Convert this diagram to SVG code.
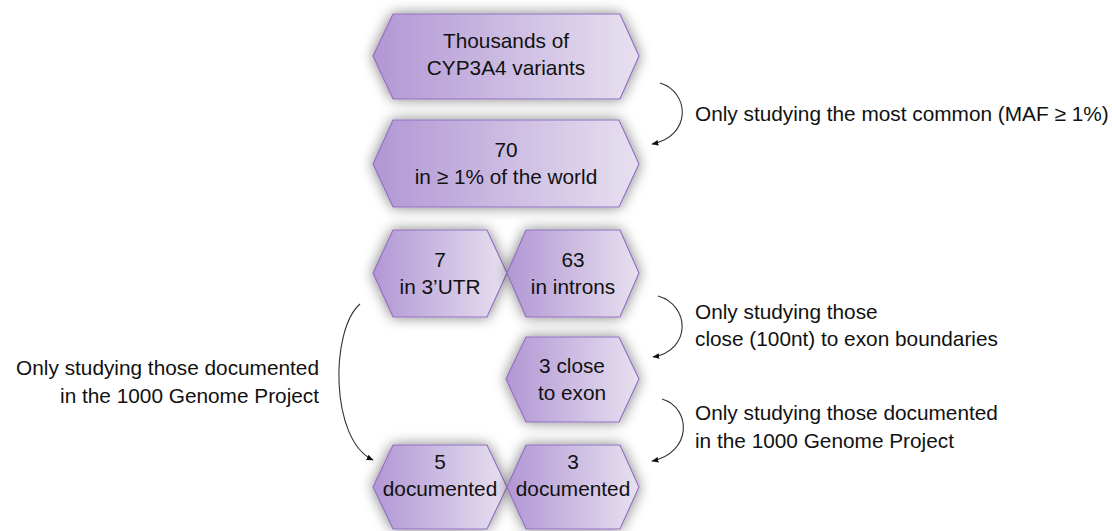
<svg xmlns="http://www.w3.org/2000/svg" width="1112" height="531" viewBox="0 0 1112 531">
<defs>
<linearGradient id="g" x1="0" y1="0" x2="1" y2="0">
<stop offset="0" stop-color="#b197d4"/>
<stop offset="1" stop-color="#e7e0f0"/>
</linearGradient>
<filter id="sh" x="-20%" y="-30%" width="140%" height="160%">
<feGaussianBlur in="SourceAlpha" stdDeviation="7"/>
<feComponentTransfer><feFuncA type="linear" slope="0.5"/></feComponentTransfer>
<feMerge><feMergeNode/><feMergeNode in="SourceGraphic"/></feMerge>
</filter>
<marker id="ah" viewBox="0 0 10 10" refX="9" refY="5" markerWidth="7" markerHeight="7" orient="auto" markerUnits="userSpaceOnUse">
<path d="M0,1 L10,5 L0,9 z" fill="#111"/>
</marker>
</defs>
<style>
.hex{fill:url(#g);stroke:#9270c0;stroke-width:1.2;filter:url(#sh)}
.t{font-family:"Liberation Sans",Arial,sans-serif;font-size:20.8px;fill:#111}
.c{text-anchor:middle}
.r{text-anchor:end}
.con{fill:none;stroke:#333;stroke-width:1.1;marker-end:url(#ah)}
</style>
<rect width="1112" height="531" fill="#fff"/>
<g id="n1"><polygon class="hex" points="373,56 393,14 620,14 639,56 620,99 393,99"/>
<text class="t c" x="506" y="48">Thousands of</text><text class="t c" x="506" y="75">CYP3A4 variants</text></g>
<g id="n2"><polygon class="hex" points="373,164 393,120 619,120 639,164 619,207 393,207"/>
<text class="t c" x="506" y="157">70</text><text class="t c" x="506" y="184">in ≥ 1% of the world</text></g>
<g id="n3"><polygon class="hex" points="373,273 393,230 487,230 507,273 487,317 393,317"/>
<text class="t c" x="440" y="267">7</text><text class="t c" x="440" y="294">in 3’UTR</text></g>
<g id="n4"><polygon class="hex" points="507,273 526,230 620,230 639,273 620,317 526,317"/>
<text class="t c" x="573" y="267">63</text><text class="t c" x="573" y="294">in introns</text></g>
<g id="n5"><polygon class="hex" points="506,379 526,337 619,337 639,379 619,422 526,422"/>
<text class="t c" x="572" y="373">3 close</text><text class="t c" x="572" y="400">to exon</text></g>
<g id="n6"><polygon class="hex" points="373,487 393,445 487,445 507,487 487,529 393,529"/>
<text class="t c" x="440" y="469">5</text><text class="t c" x="440" y="496">documented</text></g>
<g id="n7"><polygon class="hex" points="507,487 526,445 620,445 639,487 620,529 526,529"/>
<text class="t c" x="573" y="469">3</text><text class="t c" x="573" y="496">documented</text></g>
<g id="connectors">
<path class="con" d="M660,83 C690,92 692,136 652,144"/>
<path class="con" d="M658,296 C690,305 692,350 653,357"/>
<path class="con" d="M662,399 C692,408 692,453 652,461"/>
<path class="con" d="M360,304 C330,330 330,440 373,460"/>
</g>
<g id="labels">
<text class="t" x="695" y="121">Only studying the most common (MAF ≥ 1%)</text>
<text class="t" x="695" y="319">Only studying those</text>
<text class="t" x="695" y="346">close (100nt) to exon boundaries</text>
<text class="t" x="695" y="420">Only studying those documented</text>
<text class="t" x="695" y="448">in the 1000 Genome Project</text>
<text class="t r" x="319" y="375">Only studying those documented</text>
<text class="t r" x="319" y="403">in the 1000 Genome Project</text>
</g>
</svg>
